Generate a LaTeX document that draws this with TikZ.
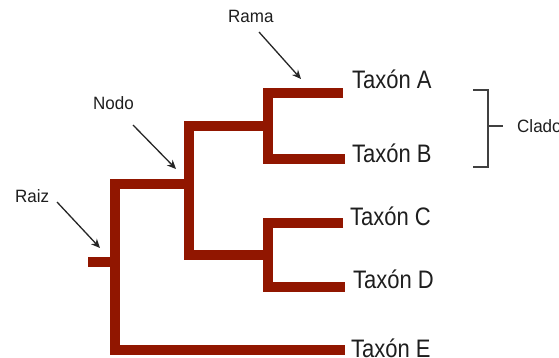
\documentclass[tikz,border=0pt]{standalone}
\usepackage{fontspec}
\usepackage{graphicx}
\setmainfont{Liberation Sans}
\usetikzlibrary{arrows.meta}
\definecolor{branch}{RGB}{145,22,0}
\definecolor{ink}{RGB}{30,30,30}
\tikzset{
  branchline/.style={draw=branch, line width=9.5pt, line join=miter, line cap=butt},
  taxon/.style={anchor=base west, inner sep=0pt, text=ink, font=\fontsize{22}{24}\selectfont},
  smalllabel/.style={anchor=base west, inner sep=0pt, text=ink, font=\fontsize{17}{19}\selectfont},
  pointer/.style={draw=black!85, line width=1.3pt, -{Stealth[length=9pt,width=8pt]}},
  bracketline/.style={draw=black!75, line width=1.4pt}
}
\begin{document}
\begin{tikzpicture}[x=1pt,y=-1pt]
\useasboundingbox (0,0) rectangle (559,358);
\clip (0,0) rectangle (559,358);
% leaf end points
\coordinate (eA) at (343,93);
\coordinate (eB) at (345,159);
\coordinate (eC) at (343,223);
\coordinate (eD) at (345,287);
\coordinate (eE) at (345,350);
% internal joints
\coordinate (ab) at (268,126);
\coordinate (cd) at (268,255);
\coordinate (nodo) at (189,184);
\coordinate (raiz) at (115,262);
\coordinate (stub) at (88,262);
% branches
\path[branchline] (eA) -- (268,93) -- (268,159) -- (eB);
\path[branchline] (eC) -- (268,223) -- (268,287) -- (eD);
\path[branchline] (ab) -- (189,126) -- (189,255) -- (cd);
\path[branchline] (nodo) -- (115,184) -- (115,350) -- (eE);
\path[branchline] (stub) -- (raiz);
% taxon labels
\node[taxon] (tA) at (352,89) {\scalebox{1}[1.15]{Taxón A}};
\node[taxon] (tB) at (352,163) {\scalebox{1}[1.15]{Taxón B}};
\node[taxon] (tC) at (350,225) {\scalebox{1}[1.15]{Taxón C}};
\node[taxon] (tD) at (353,288) {\scalebox{1}[1.15]{Taxón D}};
\node[taxon] (tE) at (351,357) {\scalebox{1}[1.15]{Taxón E}};
% small labels
\node[smalllabel] (lRama) at (228,23) {\scalebox{1}[1.05]{Rama}};
\node[smalllabel] (lNodo) at (93,110) {\scalebox{1}[1.05]{Nodo}};
\node[smalllabel] (lRaiz) at (15,202) {\scalebox{1}[1.05]{Raiz}};
\node[smalllabel] (lClado) at (517,133) {\scalebox{1}[1.05]{Clado}};
% pointers
\coordinate (pRamaS) at (259,32);
\coordinate (pRamaE) at (301,79);
\coordinate (pNodoS) at (133,125);
\coordinate (pNodoE) at (176,169);
\coordinate (pRaizS) at (57,202);
\coordinate (pRaizE) at (100,248);
\draw[pointer] (pRamaS) -- (pRamaE);
\draw[pointer] (pNodoS) -- (pNodoE);
\draw[pointer] (pRaizS) -- (pRaizE);
% bracket
\coordinate (bTop) at (473,90);
\coordinate (bBot) at (473,167);
\coordinate (bMid) at (488,126);
\coordinate (bTick) at (503,126);
\draw[bracketline] (bTop) -- (488,90) -- (488,167) -- (bBot);
\draw[bracketline] (bMid) -- (bTick);
\end{tikzpicture}
\end{document}
